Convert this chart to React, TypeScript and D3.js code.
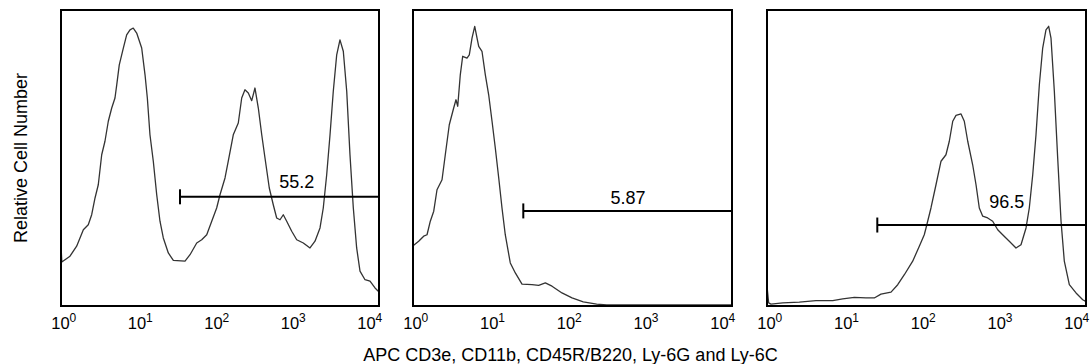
import React, { useEffect, useRef } from "react";
import * as d3 from "d3";

// x = log10 of fluorescence intensity (decades), y = relative cell number (0-100)
const histA: [number, number][] = [
  [0.0, 20.5], [0.01, 14.6], [0.113, 16.6], [0.197, 20.0], [0.281, 25.6], [0.343, 27.3],
  [0.386, 30.7], [0.428, 36.4], [0.469, 40.9], [0.512, 51.1], [0.553, 55.7], [0.595, 62.5],
  [0.638, 67.0], [0.679, 70.4], [0.701, 74.9], [0.733, 81.7], [0.784, 87.4], [0.826, 91.9],
  [0.868, 93.6], [0.909, 94.2], [0.952, 92.5], [1.015, 87.4], [1.057, 78.3], [1.086, 70.4],
  [1.119, 57.9], [1.161, 48.9], [1.204, 37.5], [1.245, 28.5], [1.287, 22.8], [1.35, 17.7],
  [1.413, 15.2], [1.56, 14.9], [1.623, 17.1], [1.707, 21.1], [1.77, 22.2], [1.833, 23.9],
  [1.896, 28.5], [1.958, 33.0], [2.0, 37.5], [2.063, 43.2], [2.104, 48.9], [2.167, 57.9],
  [2.23, 61.9], [2.273, 70.4], [2.314, 73.2], [2.356, 72.1], [2.399, 69.5], [2.44, 73.8],
  [2.482, 67.0], [2.525, 57.9], [2.566, 50.0], [2.62, 39.8], [2.67, 34.1], [2.713, 29.6],
  [2.755, 29.0], [2.796, 30.7], [2.839, 28.5], [2.902, 25.1], [2.965, 22.2], [3.048, 21.1],
  [3.132, 19.4], [3.195, 21.7], [3.258, 26.2], [3.299, 33.0], [3.342, 44.3], [3.384, 57.9],
  [3.425, 72.7], [3.468, 85.1], [3.509, 90.2], [3.551, 86.3], [3.594, 72.7], [3.635, 51.1],
  [3.677, 33.0], [3.719, 19.4], [3.761, 11.5], [3.824, 8.6], [3.887, 8.1], [3.95, 5.8],
  [3.991, 4.7],
];

const histB: [number, number][] = [
  [0.009, 20.3], [0.071, 21.7], [0.134, 23.4], [0.176, 23.9], [0.217, 28.5], [0.26, 31.9],
  [0.301, 39.2], [0.364, 42.6], [0.405, 51.1], [0.455, 61.3], [0.51, 67.0], [0.539, 69.8],
  [0.561, 67.6], [0.593, 78.3], [0.623, 84.6], [0.677, 84.0], [0.706, 85.1], [0.74, 90.8],
  [0.774, 94.8], [0.803, 90.8], [0.824, 88.0], [0.865, 86.3], [0.907, 78.3], [0.949, 71.5],
  [0.991, 62.5], [1.032, 53.4], [1.075, 43.2], [1.116, 33.0], [1.157, 23.9], [1.22, 14.3],
  [1.283, 10.9], [1.367, 7.1], [1.492, 6.9], [1.576, 6.7], [1.659, 7.5], [1.743, 6.4],
  [1.868, 4.1], [1.994, 2.4], [2.135, 1.1], [2.303, 0.3], [2.429, 0.0], [4.0, 0.0],
];

const histC: [number, number][] = [
  [0.0, 6.4], [0.021, 0.7], [0.05, 0.3], [0.197, 0.7], [0.405, 1.0], [0.614, 1.5],
  [0.824, 1.5], [0.949, 2.1], [1.095, 2.6], [1.241, 2.4], [1.345, 2.4], [1.429, 3.7],
  [1.555, 4.4], [1.639, 6.9], [1.722, 10.3], [1.827, 14.9], [1.91, 20.0], [1.972, 23.9],
  [1.994, 26.2], [2.056, 33.0], [2.119, 40.9], [2.182, 48.9], [2.244, 51.1], [2.286, 55.7],
  [2.329, 62.5], [2.37, 64.5], [2.433, 65.0], [2.474, 62.5], [2.517, 55.7], [2.579, 47.7],
  [2.621, 40.9], [2.662, 33.0], [2.705, 30.2], [2.767, 29.6], [2.83, 28.5], [2.893, 25.6],
  [2.955, 23.9], [3.038, 21.7], [3.122, 19.4], [3.185, 20.5], [3.248, 26.2], [3.289, 33.0],
  [3.332, 44.3], [3.373, 57.9], [3.415, 74.9], [3.457, 87.4], [3.498, 93.6], [3.532, 94.8],
  [3.561, 90.8], [3.603, 72.7], [3.645, 50.0], [3.687, 28.5], [3.728, 14.9], [3.791, 6.9],
  [3.875, 4.1], [3.959, 1.8], [3.991, 1.3],
];

const gateStart = [1.497, 1.383, 1.383];
const gateLevel = [36.8, 32.0, 27.2];
const gateLabels = ["55.2", "5.87", "96.5"];
const gateLabelPos: [number, number][] = [[2.965, 39.8], [2.696, 34.2], [3.006, 33.0]];
const decades = [0, 1, 2, 3, 4];

const App: React.FC = () => {
  const svgRef = useRef<SVGSVGElement | null>(null);

  useEffect(() => {
    d3.select(svgRef.current).selectAll("*").remove();

    const W = 1091;
    const H = 364;
    const top = 10;
    const bottom = 306;
    const panels = [
      { left: 61, right: 379, data: histA },
      { left: 413, right: 732, data: histB },
      { left: 767, right: 1086, data: histC },
    ];
    const font = "Arial, 'Liberation Sans', sans-serif";

    const svg = d3
      .select(svgRef.current)
      .attr("width", W)
      .attr("height", H)
      .style("background-color", "#ffffff");

    const y = d3.scaleLinear().domain([0, 100]).range([305, 11]);

    panels.forEach((p, i) => {
      const x = d3.scaleLinear().domain([0, 4]).range([p.left, p.right]);
      // tick labels sit on a slightly narrower span than the frame
      const xl = d3.scaleLinear().domain([0, 4]).range([p.left - 0.5, p.right - 12.5]);

      const g = svg.append("g");

      const clipId = `clip-${i}`;
      svg
        .append("clipPath")
        .attr("id", clipId)
        .append("rect")
        .attr("x", p.left)
        .attr("y", top)
        .attr("width", p.right - p.left)
        .attr("height", bottom - top);

      const line = d3
        .line<[number, number]>()
        .x(d => x(d[0]))
        .y(d => y(d[1]));

      g.append("path")
        .datum(p.data)
        .attr("clip-path", `url(#${clipId})`)
        .attr("d", line)
        .attr("fill", "none")
        .attr("stroke", "#333")
        .attr("stroke-width", 1.3)
        .attr("stroke-linejoin", "round");

      // gate
      const gy = y(gateLevel[i]);
      g.append("line")
        .attr("x1", x(gateStart[i]))
        .attr("x2", x(4))
        .attr("y1", gy)
        .attr("y2", gy)
        .attr("stroke", "#000")
        .attr("stroke-width", 2);
      g.append("line")
        .attr("x1", x(gateStart[i]))
        .attr("x2", x(gateStart[i]))
        .attr("y1", gy - 7.5)
        .attr("y2", gy + 7.5)
        .attr("stroke", "#000")
        .attr("stroke-width", 2);
      g.append("text")
        .attr("x", x(gateLabelPos[i][0]))
        .attr("y", y(gateLabelPos[i][1]))
        .attr("text-anchor", "middle")
        .style("font-family", font)
        .style("font-size", "18px")
        .attr("fill", "#000")
        .text(gateLabels[i]);

      // frame
      g.append("rect")
        .attr("x", p.left)
        .attr("y", top)
        .attr("width", p.right - p.left)
        .attr("height", bottom - top)
        .attr("fill", "none")
        .attr("stroke", "#000")
        .attr("stroke-width", 2);

      // tick labels 10^n
      decades.forEach(d => {
        g.append("text")
          .attr("x", xl(d))
          .attr("y", 329)
          .attr("text-anchor", "middle")
          .style("font-family", font)
          .style("font-size", "16.5px")
          .text("10");
        g.append("text")
          .attr("x", xl(d) + 9)
          .attr("y", 321.5)
          .attr("text-anchor", "start")
          .style("font-family", font)
          .style("font-size", "12px")
          .text(String(d));
      });
    });

    svg
      .append("text")
      .attr("x", 570.5)
      .attr("y", 361)
      .attr("text-anchor", "middle")
      .style("font-family", font)
      .style("font-size", "18px")
      .text("APC CD3e, CD11b, CD45R/B220, Ly-6G and Ly-6C");

    svg
      .append("text")
      .attr("transform", "rotate(-90)")
      .attr("x", -158)
      .attr("y", 27)
      .attr("text-anchor", "middle")
      .style("font-family", font)
      .style("font-size", "18px")
      .text("Relative Cell Number");
  }, []);

  return (
    <div>
      <svg ref={svgRef} style={{ position: "absolute", left: 0, top: 0 }}></svg>
    </div>
  );
};

export default App;
